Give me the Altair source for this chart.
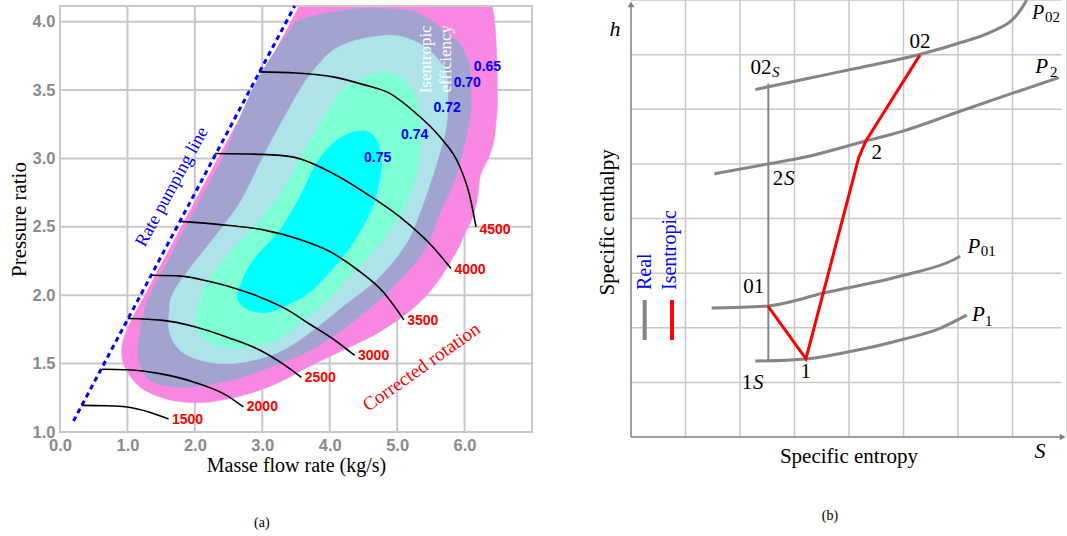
import altair as alt
import pandas as pd

# =====================================================================
# (a) Compressor map: corrected mass flow vs pressure ratio
# =====================================================================
flow_domain = [0.0, 7.0]
pr_domain = [1.0, 4.115]
flow_ticks = [0, 1, 2, 3, 4, 5, 6]
pr_ticks = [1.0, 1.5, 2.0, 2.5, 3.0, 3.5, 4.0]

# isentropic-efficiency islands (closed outlines), outermost first
eff65_flow = [3.49, 3.556, 3.65, 5.0, 6.30, 6.40, 6.444, 6.474, 6.489, 6.47, 6.437, 6.363,
              6.237, 6.193, 6.119, 6.0, 5.877, 5.581, 5.234, 4.741, 4.247, 3.733, 3.210,
              2.716, 2.222, 1.827, 1.481, 1.185, 0.988, 0.914, 0.988, 1.324, 1.852, 2.807]
eff65_pr = [4.06, 4.115, 4.115, 4.115, 4.115, 4.115, 4.012, 3.792, 3.427, 3.280, 3.134, 3.010,
            2.878, 2.710, 2.571, 2.446, 2.317, 2.086, 1.903, 1.732, 1.610, 1.488, 1.354,
            1.268, 1.219, 1.219, 1.256, 1.329, 1.451, 1.574, 1.744, 2.061, 2.549, 3.427]

eff70_flow = [3.407, 3.556, 4.044, 4.544, 5.136, 5.333, 5.630, 5.926, 6.025, 6.074, 6.099,
              6.074, 5.975, 5.852, 5.630, 5.433, 5.037, 4.493, 3.803, 3.111, 2.618, 2.123,
              1.729, 1.333, 1.185, 1.160, 1.284, 1.610, 2.052, 2.444, 2.900]
eff70_pr = [3.939, 4.012, 4.072, 4.099, 4.085, 4.056, 3.963, 3.841, 3.743, 3.670, 3.427,
            3.280, 3.061, 2.841, 2.598, 2.353, 2.110, 1.866, 1.622, 1.475, 1.391, 1.342,
            1.329, 1.378, 1.500, 1.622, 1.939, 2.256, 2.671, 3.037, 3.549]

eff72_flow = [3.803, 4.049, 4.396, 4.889, 5.230, 5.526, 5.729, 5.753, 5.729, 5.630, 5.507,
              5.333, 5.136, 4.741, 4.247, 3.753, 3.308, 2.864, 2.470, 2.074, 1.778, 1.630,
              1.619, 1.729, 2.459, 2.716, 3.062, 3.556]
eff72_pr = [3.670, 3.792, 3.865, 3.902, 3.865, 3.770, 3.622, 3.427, 3.231, 3.037, 2.841,
            2.598, 2.378, 2.134, 1.939, 1.744, 1.598, 1.525, 1.500, 1.525, 1.598, 1.720,
            1.866, 2.061, 2.532, 2.719, 3.061, 3.500]

eff74_flow = [4.247, 4.544, 4.889, 5.185, 5.307, 5.359, 5.304, 5.185, 4.988, 4.692, 4.296,
              4.044, 3.556, 3.210, 2.716, 2.321, 2.074, 2.025, 2.222, 2.889, 3.308, 3.620,
              4.049]
eff74_pr = [3.524, 3.597, 3.631, 3.524, 3.378, 3.183, 2.939, 2.732, 2.549, 2.344, 2.146,
            2.000, 1.802, 1.671, 1.620, 1.634, 1.720, 1.866, 2.134, 2.512, 2.768, 3.061,
            3.402]

eff75_flow = [3.803, 4.049, 4.296, 4.544, 4.692, 4.766, 4.741, 4.652, 4.504, 4.267, 4.000,
              3.704, 3.407, 3.111, 2.815, 2.641, 2.667, 2.864, 3.259, 3.556]
eff75_pr = [2.963, 3.110, 3.183, 3.200, 3.134, 2.988, 2.841, 2.673, 2.512, 2.329, 2.168,
            2.022, 1.939, 1.878, 1.890, 1.963, 2.061, 2.256, 2.475, 2.719]

eff_colors = ["#f888e2", "#a3a3d0", "#ade3e9", "#7fffd4", "#00ffff"]

eff_labels = ["0.65", "0.70", "0.72", "0.74", "0.75"]
eff_label_flow = [6.34, 6.04, 5.74, 5.26, 4.71]
eff_label_pr = [3.67, 3.555, 3.366, 3.17, 3.0]

# rate pumping (surge) line
surge_flow = [0.2, 3.48]
surge_pr = [1.08, 4.115]

# corrected speed lines
speed_names = ["1500", "2000", "2500", "3000", "3500", "4000", "4500"]
speed_flow = [
    [0.32, 0.70, 0.99, 1.33, 1.61],
    [0.62, 1.00, 1.48, 1.98, 2.47, 2.72],
    [1.01, 1.50, 2.00, 2.50, 2.96, 3.30, 3.58],
    [1.36, 1.80, 2.22, 2.60, 2.96, 3.35, 3.70, 4.05, 4.37],
    [1.78, 2.47, 3.00, 3.56, 4.00, 4.40, 4.80, 5.10],
    [2.30, 3.00, 3.46, 4.05, 4.54, 5.04, 5.53, 5.80],
    [2.95, 3.50, 4.05, 4.50, 4.89, 5.28, 5.63, 5.93, 6.07, 6.17],
]
speed_pr = [
    [1.195, 1.192, 1.183, 1.145, 1.095],
    [1.459, 1.455, 1.427, 1.366, 1.268, 1.183],
    [1.830, 1.818, 1.770, 1.690, 1.600, 1.500, 1.400],
    [2.146, 2.140, 2.100, 2.050, 1.988, 1.900, 1.790, 1.680, 1.560],
    [2.540, 2.512, 2.480, 2.407, 2.320, 2.190, 2.020, 1.820],
    [3.037, 3.030, 3.010, 2.890, 2.744, 2.573, 2.353, 2.195],
    [3.633, 3.625, 3.597, 3.540, 3.476, 3.330, 3.160, 2.940, 2.740, 2.500],
]
speed_label_flow = [1.66, 2.77, 3.63, 4.42, 5.15, 5.85, 6.22]
speed_label_pr = [1.09, 1.18, 1.395, 1.554, 1.81, 2.183, 2.48]

# =====================================================================
# (b) h-s diagram of the compression
# =====================================================================
s_domain = [0, 8]
h_domain = [0, 8]
grid_steps = [1, 2, 3, 4, 5, 6, 7, 8]

isobar_names = ["P02", "P2", "P01", "P1"]
isobar_s = [
    [2.28, 3.22, 4.14, 5.36, 5.98, 6.62, 7.02, 7.17, 7.26],
    [1.53, 2.52, 3.22, 4.31, 4.99, 6.00, 6.99, 7.85],
    [1.48, 2.51, 3.52, 5.00, 5.91, 6.04],
    [2.28, 3.21, 4.00, 5.00, 5.67, 6.16],
]
isobar_h = [
    [6.36, 6.56, 6.75, 7.02, 7.20, 7.42, 7.66, 7.85, 8.00],
    [4.82, 5.00, 5.13, 5.42, 5.60, 5.95, 6.29, 6.58],
    [2.36, 2.40, 2.63, 2.96, 3.24, 3.31],
    [1.39, 1.43, 1.56, 1.79, 1.99, 2.23],
]

# real process 01 -> 1 -> 2 -> 02
process_s = [2.51, 3.21, 4.18, 4.31, 5.30]
process_h = [2.40, 1.43, 5.12, 5.42, 6.99]

# isentropic line 1S -> 02S
isen_s = [2.52]
isen_h_low = [1.40]
isen_h_high = [6.47]

# point labels (upright)
pt_text = ["02", "02", "2", "2", "01", "1", "1"]
pt_s = [5.303, 2.385, 4.508, 2.697, 2.251, 3.208, 2.128]
pt_h = [7.237, 6.750, 5.194, 4.723, 2.737, 1.181, 0.983]
# italic "S" / "P" parts
it_text = ["S", "S", "S", "P", "P", "P", "P"]
it_s = [2.655, 2.905, 2.335, 7.468, 7.536, 6.294, 6.373]
it_h = [6.673, 4.723, 0.983, 7.770, 6.779, 3.484, 2.233]
it_size = [15, 21, 21, 20, 21, 21, 21]
# pressure subscripts
sub_text = ["02", "2", "01", "1"]
sub_s = [7.734, 7.755, 6.556, 6.566]
sub_h = [7.690, 6.682, 3.405, 2.124]

# legend bars
legend_text = ["Real", "Isentropic"]
legend_s = [0.251, 0.752]
legend_text_s = [0.257, 0.716]
legend_colors = ["#858585", "#ff0000"]
legend_h_low = [1.776]
legend_h_high = [2.508]
legend_text_h = [2.691]

# ---------------------------------------------------------------------
XL = alt.Scale(domain=flow_domain, range=[0, 472], nice=False, zero=False)
YL = alt.Scale(domain=pr_domain, range=[432, 6], nice=False, zero=False)
XR = alt.Scale(domain=s_domain, range=[571, 1007], nice=False, zero=False)
YR = alt.Scale(domain=h_domain, range=[437, 0], nice=False, zero=False)

GRID = "#c8c8c8"
SERIF = "Liberation Serif"
SANS = "Liberation Sans"

axis_common = dict(grid=False, domain=False, ticks=False, labelFlush=False,
                   labelOverlap=False, labelFont=SANS, labelFontSize=16.5,
                   labelFontWeight="bold", labelColor="#8a8a8a",
                   titleFont=SERIF, titleFontWeight="normal", titleColor="black")
X_AXIS = alt.Axis(values=flow_ticks, format=".1f", labelPadding=5,
                  title="Masse flow rate (kg/s)", titlePadding=2, titleFontSize=20,
                  **axis_common)
Y_AXIS = alt.Axis(values=pr_ticks, format=".1f", labelPadding=5,
                  title="Pressure ratio", titlePadding=3, titleFontSize=21,
                  **axis_common)


def xl(field):
    return alt.X(field, type="quantitative", scale=XL, axis=X_AXIS)


def yl(field):
    return alt.Y(field, type="quantitative", scale=YL, axis=Y_AXIS)


def xr(field):
    return alt.X(field, type="quantitative", scale=XR, axis=None)


def yr(field):
    return alt.Y(field, type="quantitative", scale=YR, axis=None)


def left_text(texts, xs, ys, **mark):
    df = pd.DataFrame({"x": xs, "y": ys, "t": texts})
    return alt.Chart(df).mark_text(**mark).encode(x=xl("x"), y=yl("y"), text="t:N")


def right_text(texts, xs, ys, **mark):
    df = pd.DataFrame({"x": xs, "y": ys, "t": texts})
    return alt.Chart(df).mark_text(**mark).encode(x=xr("x"), y=yr("y"), text="t:N")


# ---------------- left panel layers ----------------
vgrid = alt.Chart(pd.DataFrame({"f": flow_ticks[1:], "p0": pr_domain[0],
                                "p1": pr_domain[1]})).mark_rule(
    color=GRID, strokeWidth=2).encode(x=xl("f"), y=yl("p0"), y2="p1:Q")
hgrid = alt.Chart(pd.DataFrame({"p": pr_ticks[1:], "f0": flow_domain[0],
                                "f1": flow_domain[1]})).mark_rule(
    color=GRID, strokeWidth=2).encode(y=yl("p"), x=xl("f0"), x2="f1:Q")


def island(flow, pr, color):
    df = pd.DataFrame({"flow": flow, "pr": pr, "i": list(range(len(flow)))})
    return alt.Chart(df).mark_line(
        interpolate="cardinal-closed", fill=color, stroke=color, strokeWidth=0.5
    ).encode(x=xl("flow"), y=yl("pr"), order="i:Q")


islands = [
    island(eff65_flow, eff65_pr, eff_colors[0]),
    island(eff70_flow, eff70_pr, eff_colors[1]),
    island(eff72_flow, eff72_pr, eff_colors[2]),
    island(eff74_flow, eff74_pr, eff_colors[3]),
    island(eff75_flow, eff75_pr, eff_colors[4]),
]

# white margin strip above the plot frame (keeps smooth outlines inside)
margin = alt.Chart(pd.DataFrame({"x0": [flow_domain[0]], "x1": [flow_domain[1]],
                                 "y0": [pr_domain[1]], "y1": [4.2]})).mark_rect(
    color="white").encode(x=xl("x0"), x2="x1:Q", y=yl("y0"), y2="y1:Q")

frame = alt.Chart(pd.DataFrame({"x0": [flow_domain[0]], "x1": [flow_domain[1]],
                                "y0": [pr_domain[0]], "y1": [pr_domain[1]]})).mark_rect(
    fillOpacity=0, stroke=GRID, strokeWidth=2).encode(
    x=xl("x0"), x2="x1:Q", y=yl("y0"), y2="y1:Q")

speed_rows = []
for name, fs, ps in zip(speed_names, speed_flow, speed_pr):
    for i, (f, p) in enumerate(zip(fs, ps)):
        speed_rows.append({"speed": name, "i": i, "flow": f, "pr": p})
speed_lines = alt.Chart(pd.DataFrame(speed_rows)).mark_line(
    color="black", strokeWidth=1.6, interpolate="monotone").encode(
    x=xl("flow"), y=yl("pr"), detail="speed:N", order="i:Q")

surge = alt.Chart(pd.DataFrame({"flow": surge_flow, "pr": surge_pr})).mark_line(
    color="#0000ff", strokeWidth=3, strokeDash=[5, 4]).encode(x=xl("flow"), y=yl("pr"))

speed_text = left_text(speed_names, speed_label_flow, speed_label_pr, align="left",
                       baseline="middle", font=SANS, fontSize=14, fontWeight="bold",
                       color="#ff0000")
eff_text = left_text(eff_labels, eff_label_flow, eff_label_pr, align="center",
                     baseline="middle", font=SANS, fontSize=14, fontWeight="bold",
                     color="#0000ff")
surge_text = left_text(["Rate pumping line"], [1.664], [2.792], angle=298.5,
                       align="center", baseline="middle", font=SERIF, fontSize=18,
                       color="#0000ff")
rot_text = left_text(["Corrected rotation"], [5.36], [1.475], angle=324.7,
                     align="center", baseline="middle", font=SERIF, fontSize=19,
                     color="#ff0000")
eff_title = left_text(["Isentropic", "efficiency"], [5.433, 5.729], [3.725, 3.729],
                      angle=270, align="center", baseline="middle", font=SERIF,
                      fontSize=17, color="white")
cap_a = left_text(["(a)"], [2.993], [0.332], align="center", baseline="middle",
                  font=SERIF, fontSize=14, color="black")

left = alt.layer(vgrid, hgrid, *islands, margin, frame, speed_lines, surge, speed_text,
                 eff_text, surge_text, rot_text, eff_title, cap_a)

# ---------------- right panel layers ----------------
rvgrid = alt.Chart(pd.DataFrame({"s": grid_steps, "h0": h_domain[0],
                                 "h1": h_domain[1]})).mark_rule(
    color=GRID, strokeWidth=1.5).encode(x=xr("s"), y=yr("h0"), y2="h1:Q")
rhgrid = alt.Chart(pd.DataFrame({"h": grid_steps, "s0": s_domain[0],
                                 "s1": 7.9})).mark_rule(
    color=GRID, strokeWidth=1.5).encode(y=yr("h"), x=xr("s0"), x2="s1:Q")
haxis = alt.Chart(pd.DataFrame({"s": [0], "h0": [0], "h1": [7.9]})).mark_rule(
    color="#808080", strokeWidth=1.5).encode(x=xr("s"), y=yr("h0"), y2="h1:Q")
saxis = alt.Chart(pd.DataFrame({"h": [0], "s0": [0], "s1": [7.9]})).mark_rule(
    color="#808080", strokeWidth=1.5).encode(y=yr("h"), x=xr("s0"), x2="s1:Q")
arrow_up = alt.Chart(pd.DataFrame({"s": [0], "h": [7.92]})).mark_point(
    shape="triangle-up", filled=True, color="#808080", size=45, opacity=1).encode(
    x=xr("s"), y=yr("h"))
arrow_right = alt.Chart(pd.DataFrame({"s": [7.92], "h": [0]})).mark_point(
    shape="triangle-right", filled=True, color="#808080", size=45, opacity=1).encode(
    x=xr("s"), y=yr("h"))

iso_rows = []
for name, ss, hs in zip(isobar_names, isobar_s, isobar_h):
    for i, (s, h) in enumerate(zip(ss, hs)):
        iso_rows.append({"p": name, "i": i, "s": s, "h": h})
isobars = alt.Chart(pd.DataFrame(iso_rows)).mark_line(
    color="#858585", strokeWidth=3, interpolate="monotone").encode(
    x=xr("s"), y=yr("h"), detail="p:N", order="i:Q")

isen = alt.Chart(pd.DataFrame({"s": isen_s, "h0": isen_h_low, "h1": isen_h_high})).mark_rule(
    color="#858585", strokeWidth=2).encode(x=xr("s"), y=yr("h0"), y2="h1:Q")

process = alt.Chart(pd.DataFrame({"s": process_s, "h": process_h,
                                  "i": list(range(len(process_s)))})).mark_line(
    color="#ff0000", strokeWidth=3).encode(x=xr("s"), y=yr("h"), order="i:Q")

legend_bars = alt.Chart(pd.DataFrame({"s": legend_s, "c": legend_colors,
                                      "h0": legend_h_low * 2,
                                      "h1": legend_h_high * 2})).mark_rule(
    strokeWidth=4).encode(x=xr("s"), y=yr("h0"), y2="h1:Q",
                          color=alt.Color("c:N", scale=None))
legend_words = right_text(legend_text, legend_text_s, legend_text_h * 2, angle=270,
                          align="left", baseline="middle", font=SERIF, fontSize=20,
                          color="#0000ff")

pt_labels = right_text(pt_text, pt_s, pt_h, align="center", baseline="middle",
                       font=SERIF, fontSize=21, color="black")
it_df = pd.DataFrame({"x": it_s, "y": it_h, "t": it_text, "sz": it_size})
it_labels = alt.Chart(it_df).mark_text(
    align="center", baseline="middle", font=SERIF, fontStyle="italic",
    color="black").encode(x=xr("x"), y=yr("y"), text="t:N",
                          size=alt.Size("sz:Q", scale=None, legend=None))
sub_labels = right_text(sub_text, sub_s, sub_h, align="center", baseline="middle",
                        font=SERIF, fontSize=15, color="black")
axis_syms = right_text(["h", "S"], [-0.294, 7.505], [7.469, -0.256], align="center",
                       baseline="middle", font=SERIF, fontSize=22, fontStyle="italic",
                       color="black")
x_title_r = right_text(["Specific entropy"], [4.0], [-0.366], align="center",
                       baseline="middle", font=SERIF, fontSize=21, color="black")
y_title_r = right_text(["Specific enthalpy"], [-0.42], [3.93], angle=270,
                       align="center", baseline="middle", font=SERIF, fontSize=21,
                       color="black")
cap_b = right_text(["(b)"], [3.651], [-1.446], align="center", baseline="middle",
                   font=SERIF, fontSize=14, color="black")

right = alt.layer(rvgrid, rhgrid, haxis, saxis, arrow_up, arrow_right, isobars, isen,
                  process, legend_bars, legend_words, pt_labels, it_labels, sub_labels,
                  axis_syms, x_title_r, y_title_r, cap_b)

chart = alt.layer(left, right).resolve_scale(
    x="independent", y="independent"
).properties(
    width=1007, height=432,
    autosize=alt.AutoSizeParams(type="none"),
    padding={"left": 60, "top": 0, "right": 0, "bottom": 104},
    background="white",
).configure_view(strokeWidth=0)

chart.save("out.html", embed_options={"renderer": "svg", "actions": False})
